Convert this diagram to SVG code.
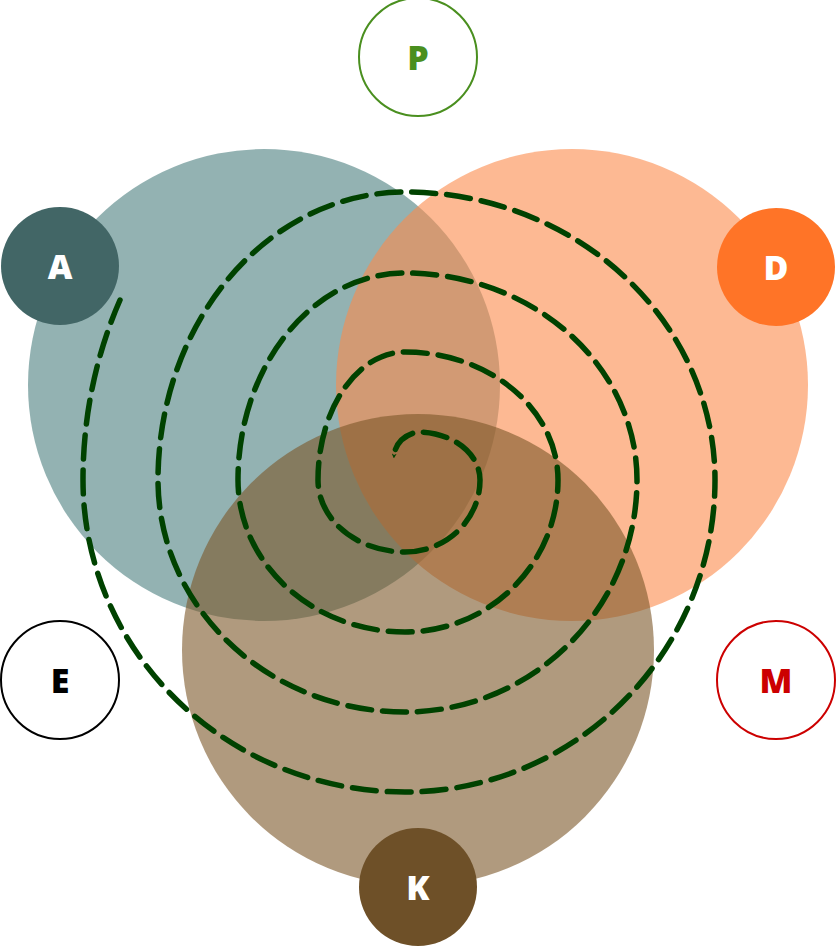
<svg xmlns="http://www.w3.org/2000/svg" width="836" height="946" viewBox="0 0 836 946">
<style>
.big{opacity:0.6}
.lbl{font-family:"Open Sans","Liberation Sans",sans-serif;font-weight:800;font-size:34px;text-anchor:middle;dominant-baseline:central}
.sp{fill:none;stroke:#004200;stroke-width:5.5;stroke-dasharray:24 11;stroke-linecap:round}
</style>
<defs>
<marker id="ah" viewBox="0 0 10 10" refX="5" refY="5" markerWidth="5" markerHeight="5" orient="auto" markerUnits="userSpaceOnUse">
<path d="M0,0 L10,5 L0,10 L3,5 Z" fill="#004200"/>
</marker>
</defs>
<rect width="836" height="946" fill="#fff"/>
<g id="circles">
<circle class="big" cx="264" cy="385" r="236" fill="#4b7f7f"/>
<circle class="big" cx="572" cy="385" r="236" fill="#fc8a4b"/>
<circle class="big" cx="418" cy="650" r="236" fill="#7b5728"/>
</g>
<g id="connectors">
<path class="sp" marker-end="url(#ah)" d="M120,300 A322 386 0 0 0 83,480 A322 312 0 0 0 405,792 A310 312 0 0 0 715,480 A310 288 0 0 0 405,192 A247 288 0 0 0 158,480 A247 232 0 0 0 405,712 A232 232 0 0 0 637,480 A232 207 0 0 0 405,273 A167 207 0 0 0 238,480 A167 152 0 0 0 405,632 A153 152 0 0 0 558,480 A153 128 0 0 0 405,352 A87 128 0 0 0 318,480 A87 72 0 0 0 405,552 A75 72 0 0 0 480,480 A62 48 0 0 0 418,432 A30 26 0 0 0 394,456"/>
</g>
<g id="node-P"><circle cx="418" cy="57" r="59" fill="#fff" stroke="#4a8f1f" stroke-width="2"/><text class="lbl" x="418" y="57" fill="#4a8f1f">P</text></g>
<g id="node-A"><circle cx="60" cy="266" r="59" fill="#426666"/><text class="lbl" x="60" y="266" fill="#fff">A</text></g>
<g id="node-D"><circle cx="776" cy="267" r="59" fill="#ff7427"/><text class="lbl" x="776" y="267" fill="#fff">D</text></g>
<g id="node-E"><circle cx="60" cy="680" r="59" fill="#fff" stroke="#000" stroke-width="2"/><text class="lbl" x="60" y="680" fill="#000">E</text></g>
<g id="node-M"><circle cx="776" cy="680" r="59" fill="#fff" stroke="#cc0000" stroke-width="2"/><text class="lbl" x="776" y="680" fill="#cc0000">M</text></g>
<g id="node-K"><circle cx="418" cy="887" r="59" fill="#6e5028"/><text class="lbl" x="418" y="887" fill="#fff">K</text></g>
</svg>
